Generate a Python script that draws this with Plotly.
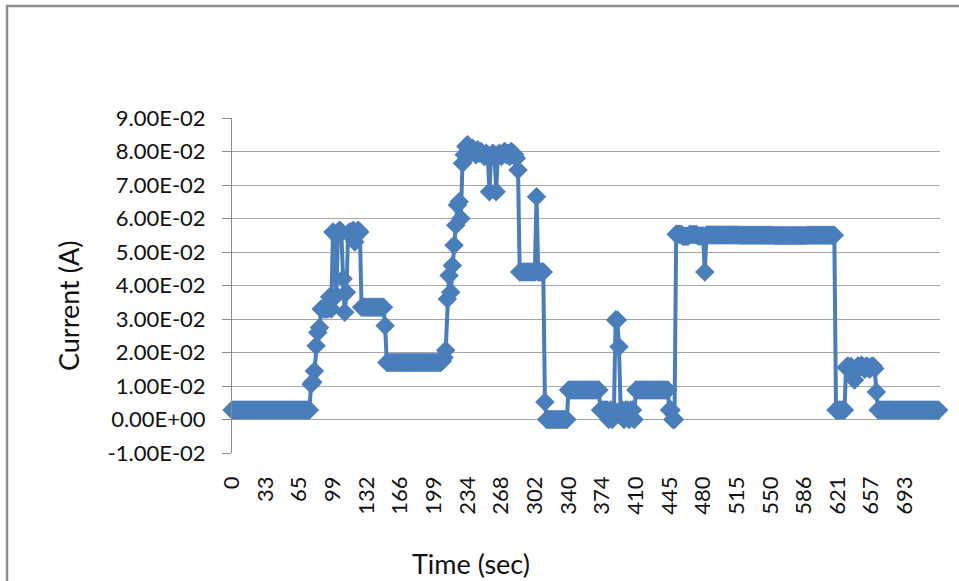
import numpy as np
import plotly.graph_objects as go

# Measured current (A), stored as runs: each value is held for the given number of samples
run_values = [
    0.0028, 0.0105, 0.0112, 0.0145, 0.022, 0.026, 0.0275, 0.033, 0.0366, 0.033,
    0.056, 0.0555, 0.037, 0.056, 0.0565, 0.056, 0.042, 0.032, 0.038, 0.0555,
    0.056, 0.0565, 0.053, 0.056, 0.0565, 0.056, 0.0335, 0.028, 0.017, 0.0175,
    0.0185, 0.0207, 0.036, 0.043, 0.038, 0.046, 0.052, 0.058, 0.064, 0.065,
    0.060,
    0.0765, 0.0790, 0.0815, 0.0820, 0.0805, 0.0795, 0.0810, 0.0800, 0.0790, 0.0805,
    0.0795, 0.0800, 0.0790, 0.0785, 0.0795, 0.0790, 0.0680, 0.0785, 0.0795, 0.0790,
    0.0680, 0.0790, 0.0795, 0.0785, 0.0795, 0.0800, 0.0790, 0.0795, 0.0785, 0.0800,
    0.0795, 0.0790, 0.0780, 0.0745,
    0.044, 0.0665, 0.044, 0.0052, 0.0, 0.0088,
    0.0028, 0.0, 0.0028, 0.0, 0.0028, 0.0297, 0.0217, 0.0028, 0.0, 0.0028,
    0.0, 0.0028, 0.0, 0.0088, 0.0028, 0.0,
    0.0553, 0.0547, 0.0552, 0.0548, 0.044, 0.0551, 0.055, 0.0549, 0.055,
    0.0028,
    0.0155, 0.0160, 0.0150, 0.0158, 0.0140, 0.0118, 0.0150, 0.0160, 0.0155, 0.0162,
    0.0158, 0.0150, 0.0160, 0.0157, 0.0150, 0.0158, 0.0160, 0.0152, 0.0082,
    0.0028,
]
run_lengths = [
    47, 1, 1, 1, 1, 1, 1, 5, 1, 1,
    1, 1, 1, 1, 1, 1, 1, 1, 1, 1,
    2, 1, 1, 1, 1, 1, 14, 1, 33, 1,
    1, 1, 1, 1, 1, 1, 1, 1, 1, 1,
    1,
    1, 1, 1, 1, 1, 1, 1, 1, 1, 1,
    1, 1, 1, 1, 1, 1, 1, 1, 1, 1,
    1, 1, 1, 1, 1, 1, 1, 1, 1, 1,
    1, 1, 1, 1,
    10, 1, 4, 1, 13, 19,
    5, 1, 1, 1, 1, 2, 1, 2, 1, 2,
    1, 2, 1, 20, 2, 2,
    4, 4, 5, 4, 1, 20, 20, 20, 17,
    6,
    1, 1, 1, 1, 1, 1, 1, 1, 1, 1,
    1, 1, 1, 1, 1, 1, 1, 1, 1,
    37,
]

current = np.repeat(run_values, run_lengths)
sample = np.arange(len(current))

# Category labels (time in seconds), one every 20 samples
time_labels = ["0", "33", "65", "99", "132", "166", "199", "234", "268", "302",
               "340", "374", "410", "445", "480", "515", "550", "586", "621",
               "657", "693"]
label_every = 20
time_tick_pos = [i * label_every for i in range(len(time_labels))]

y_ticks = [-0.01, 0.0, 0.01, 0.02, 0.03, 0.04, 0.05, 0.06, 0.07, 0.08, 0.09]
y_tick_labels = ["-1.00E-02", "0.00E+00", "1.00E-02", "2.00E-02", "3.00E-02",
                 "4.00E-02", "5.00E-02", "6.00E-02", "7.00E-02", "8.00E-02",
                 "9.00E-02"]

BLUE = "#4A7EBB"
GREY = "#8C8C8C"
TEXT = "#111111"
FONT = "Lato"

W, H = 959, 581
L, R, T, B = 232, 19, 118, 128
PW, PH = W - L - R, H - T - B


def px_x(p):
    return (p - L) / PW


def px_y(p):
    return (H - B - p) / PH


fig = go.Figure()
fig.add_trace(go.Scatter(
    x=sample, y=current, mode="lines+markers",
    line=dict(color=BLUE, width=4),
    marker=dict(symbol="diamond", size=15, color=BLUE, line=dict(width=0)),
    cliponaxis=False, showlegend=False,
))

fig.update_layout(
    width=W, height=H,
    margin=dict(l=L, r=R, t=T, b=B),
    paper_bgcolor="white", plot_bgcolor="white",
    font=dict(family=FONT, size=22, color=TEXT),
    xaxis=dict(
        range=[0, 420.8], tickmode="array", tickvals=time_tick_pos,
        ticktext=time_labels, tickangle=-90, showgrid=False, zeroline=False,
        showline=False, ticks="", ticklabelstandoff=18,
        tickfont=dict(family=FONT, size=22, color=TEXT),
    ),
    yaxis=dict(
        range=[-0.01, 0.09], tickmode="array", tickvals=y_ticks,
        ticktext=y_tick_labels, showgrid=True, gridcolor="#A6A6A6",
        gridwidth=1, zeroline=False, showline=True, linecolor=GREY,
        linewidth=1, ticks="outside", ticklen=9, tickcolor=GREY,
        ticklabelstandoff=12,
        tickfont=dict(family=FONT, size=22, color=TEXT),
    ),
    shapes=[
        # chart border
        dict(type="rect", xref="paper", yref="paper",
             x0=px_x(7), x1=px_x(990), y0=px_y(620), y1=px_y(6),
             line=dict(color=GREY, width=2.5), fillcolor="rgba(0,0,0,0)",
             layer="below"),
        # floor band along the bottom of the plot area
        dict(type="rect", xref="paper", yref="y", ysizemode="pixel",
             yanchor=-0.01, x0=0, x1=1, y0=-9, y1=0,
             line=dict(width=0), fillcolor=GREY, layer="above"),
    ],
    annotations=[
        dict(text="Time (sec)", xref="paper", yref="paper",
             x=px_x(471), y=px_y(563), xanchor="center", yanchor="middle",
             showarrow=False, font=dict(family=FONT, size=27, color=TEXT)),
        dict(text="Current (A)", xref="paper", yref="paper",
             x=px_x(68), y=px_y(306), xanchor="center", yanchor="middle",
             showarrow=False, textangle=-90,
             font=dict(family=FONT, size=27, color=TEXT)),
    ],
)

fig.write_html("out.html")
